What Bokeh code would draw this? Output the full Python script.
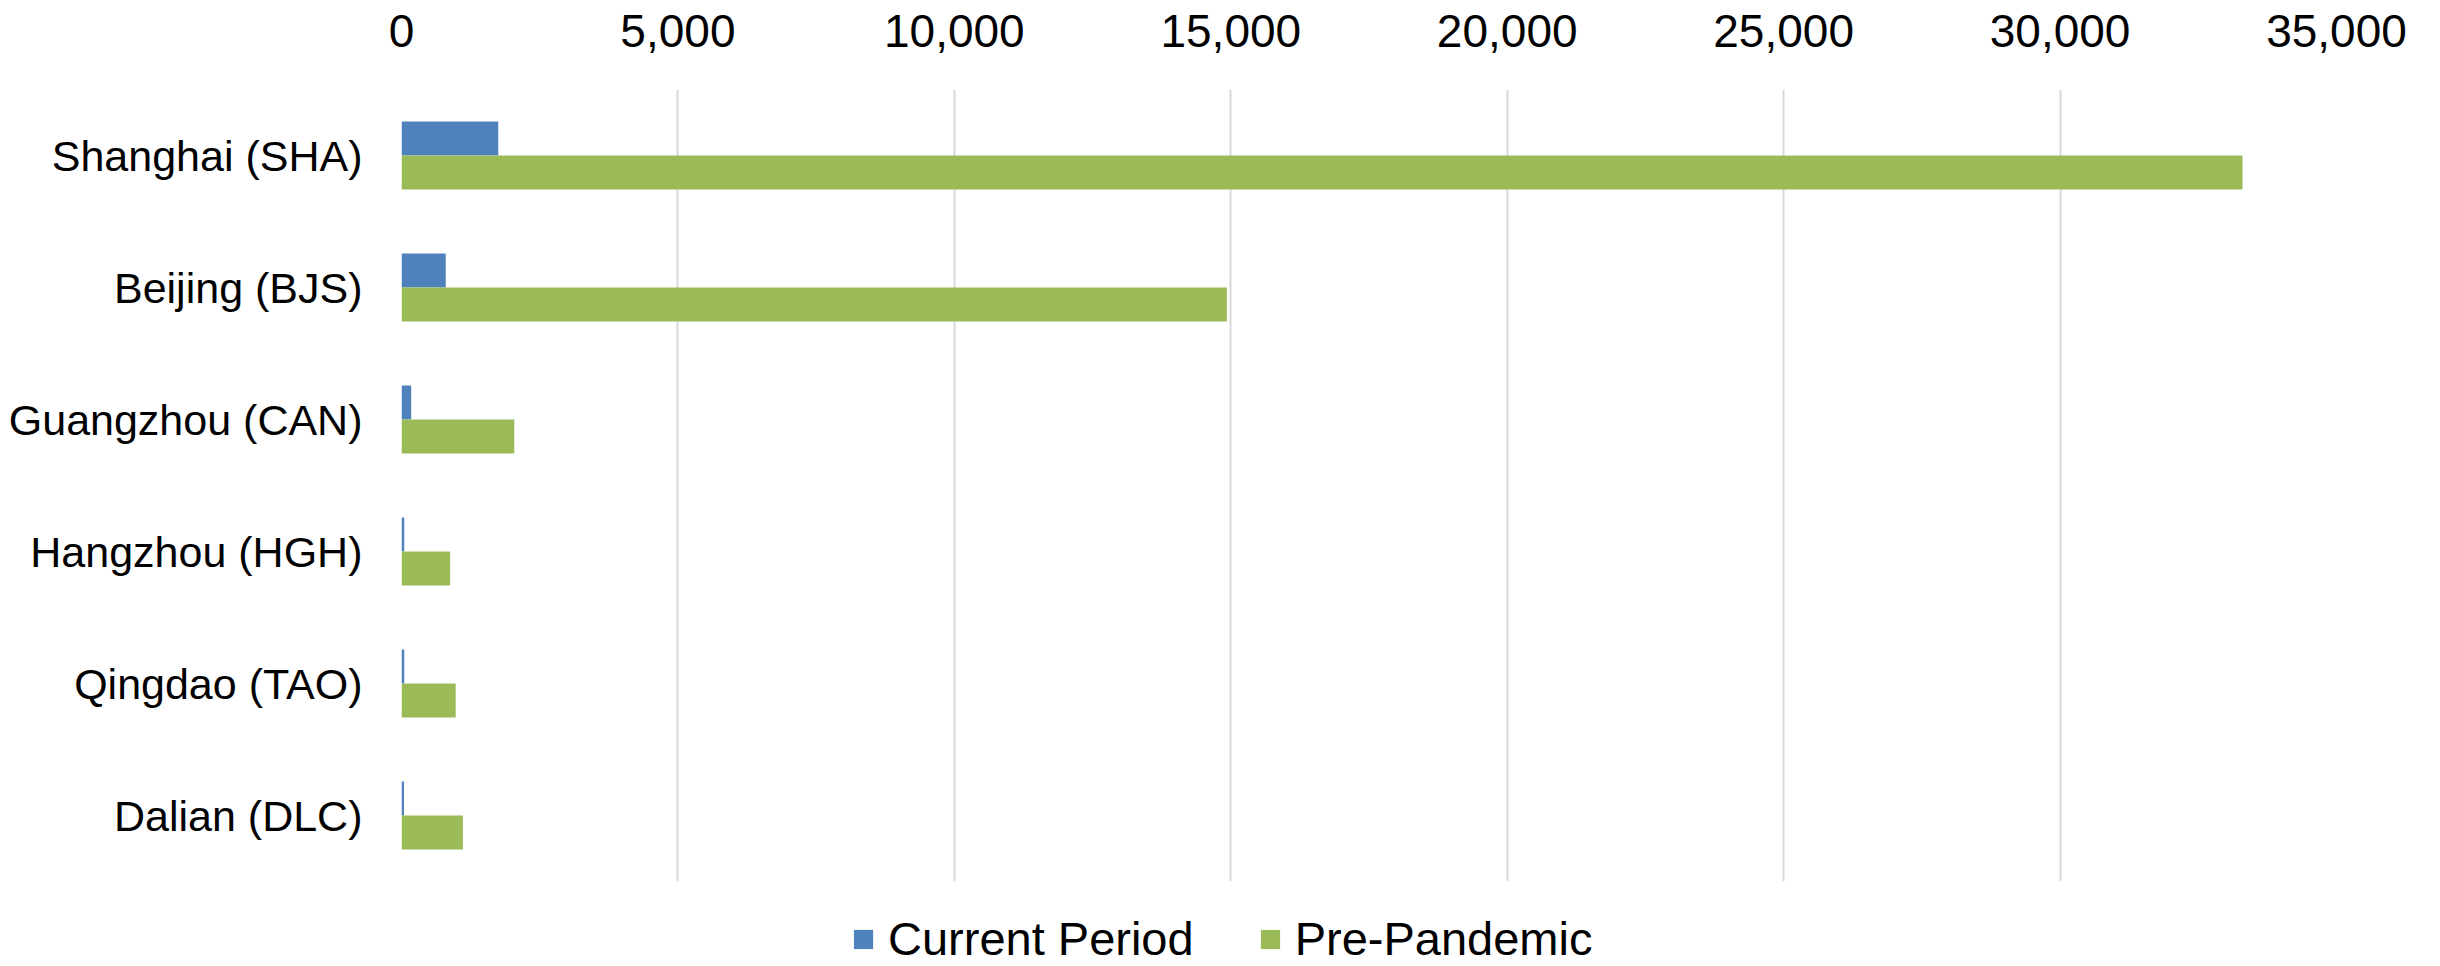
from bokeh.plotting import figure
from bokeh.layouts import column
from bokeh.models import (Range1d, FactorRange, FixedTicker, NumeralTickFormatter,
                          Legend, LegendItem, ColumnDataSource)
from bokeh.transform import dodge
from bokeh.embed import file_html
from bokeh.resources import INLINE

# ---- data ----
cities = ["Shanghai (SHA)", "Beijing (BJS)", "Guangzhou (CAN)",
          "Hangzhou (HGH)", "Qingdao (TAO)", "Dalian (DLC)"]
current_period = [1750, 800, 175, 50, 50, 45]
pre_pandemic = [33300, 14930, 2040, 880, 980, 1110]
x_ticks = [0, 5000, 10000, 15000, 20000, 25000, 30000, 35000]
series_names = ["Current Period", "Pre-Pandemic"]
series_colors = ["#4F81BD", "#9BBB59"]

FONT = "Liberation Sans"

src = ColumnDataSource(dict(city=cities, current=current_period, pre=pre_pandemic))

# ---- main chart ----
p = figure(width=2424, height=885,
           y_range=FactorRange(*reversed(cities)),
           x_range=Range1d(x_ticks[0], x_ticks[-1]),
           x_axis_location="above",
           output_backend="svg", toolbar_location=None,
           min_border_left=401, min_border_right=88,
           min_border_top=89, min_border_bottom=4)

p.outline_line_color = None
p.background_fill_color = "white"
p.border_fill_color = "white"

p.ygrid.visible = False
p.xgrid.grid_line_color = "#d9d9d9"
p.xgrid.grid_line_width = 2
p.xaxis.ticker = FixedTicker(ticks=x_ticks)
p.xaxis.formatter = NumeralTickFormatter(format="0,0")

for ax in (p.xaxis, p.yaxis):
    ax.axis_line_color = None
    ax.major_tick_line_color = None
    ax.minor_tick_line_color = None
    ax.major_tick_out = 0
    ax.major_tick_in = 0
    ax.minor_tick_out = 0
    ax.minor_tick_in = 0
    ax.major_label_text_font = FONT
    ax.major_label_text_color = "black"

p.xaxis.major_label_text_font_size = "46px"
p.xaxis.major_label_standoff = 43
p.yaxis.major_label_text_font_size = "43px"
p.yaxis.major_label_standoff = 39

bar_h = 0.258
p.hbar(y=dodge("city", bar_h / 2, range=p.y_range), left=0, right="current",
       height=bar_h, fill_color=series_colors[0], line_color=None, source=src)
p.hbar(y=dodge("city", -bar_h / 2, range=p.y_range), left=0, right="pre",
       height=bar_h, fill_color=series_colors[1], line_color=None, source=src)

# ---- legend strip (same series, renderers hidden; only the legend shows) ----
lg = figure(width=2424, height=81, output_backend="svg", toolbar_location=None,
            y_range=FactorRange(*reversed(cities)),
            x_range=Range1d(x_ticks[0], x_ticks[-1]),
            x_axis_location=None, y_axis_location=None,
            min_border_left=0, min_border_right=0, min_border_top=0, min_border_bottom=0)
lg.outline_line_color = None
lg.grid.visible = False
lg.background_fill_color = "white"
lg.border_fill_color = "white"
k1 = lg.hbar(y="city", left=0, right="current", height=bar_h,
             fill_color=series_colors[0], line_color=None, source=src, visible=False)
k2 = lg.hbar(y="city", left=0, right="pre", height=bar_h,
             fill_color=series_colors[1], line_color=None, source=src, visible=False)

legend = Legend(items=[LegendItem(label=series_names[0], renderers=[k1]),
                       LegendItem(label=series_names[1], renderers=[k2])],
                orientation="horizontal", location=(450, 0),
                padding=0, margin=0, spacing=64, label_standoff=13,
                glyph_width=24, glyph_height=24, click_policy="none",
                border_line_color=None, background_fill_alpha=0,
                label_text_font=FONT, label_text_font_size="47px",
                label_text_color="black")
lg.add_layout(legend, "center")

layout = column(p, lg, spacing=0)
open("out.html", "w").write(file_html(layout, INLINE))
